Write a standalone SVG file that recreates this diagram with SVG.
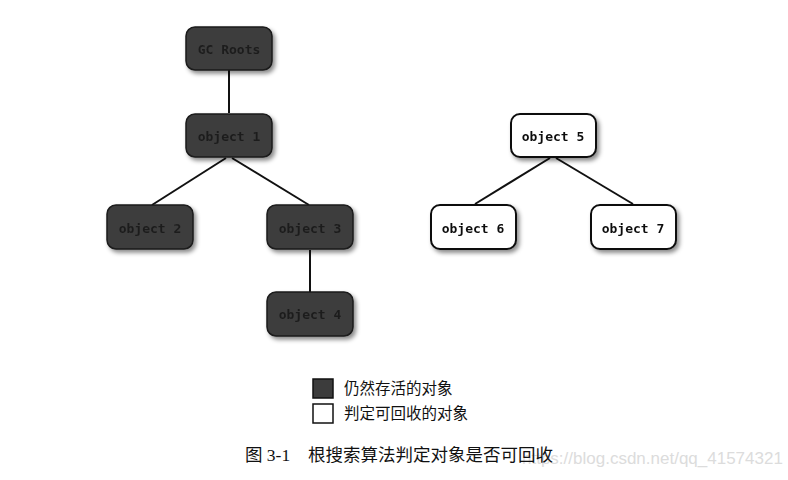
<svg xmlns="http://www.w3.org/2000/svg" width="788" height="480" viewBox="0 0 788 480">
<style>
.dark rect{fill:#3c3c3c;stroke:#1a1a1a;stroke-width:1.5}
.light rect{fill:#fff;stroke:#111;stroke-width:2}
.dark text{fill:#1e1e1e}
.light text{fill:#111}
.node text{font-family:"DejaVu Sans Mono","Liberation Mono",monospace;font-size:13px;font-weight:bold;text-anchor:middle;dominant-baseline:central}
.edge{stroke:#111;stroke-width:2;fill:none}
.leg{font-family:"Noto Sans CJK SC",sans-serif;font-size:15.5px;fill:#111}
.cap{font-family:"Liberation Serif","Noto Sans CJK SC",serif;font-size:17.5px;fill:#111}
</style>
<defs>
<filter id="sh" x="-20%" y="-20%" width="150%" height="160%">
<feDropShadow dx="2.5" dy="3" stdDeviation="2" flood-color="#000" flood-opacity="0.45"/>
</filter>
</defs>
<rect width="788" height="480" fill="#fff"/>
<g id="connectors">
<line class="edge" x1="229" y1="70" x2="229" y2="113"/>
<line class="edge" x1="226" y1="158" x2="152" y2="205"/>
<line class="edge" x1="232" y1="158" x2="309" y2="205"/>
<line class="edge" x1="310" y1="250" x2="310" y2="292"/>
<line class="edge" x1="550" y1="158" x2="475" y2="204"/>
<line class="edge" x1="556" y1="158" x2="633" y2="204"/>
</g>
<g id="gcroots" class="node dark" filter="url(#sh)"><rect x="186" y="27" width="86" height="43" rx="9"/><text x="229" y="49">GC Roots</text></g>
<g id="object1" class="node dark" filter="url(#sh)"><rect x="186" y="114" width="86" height="43" rx="9"/><text x="229" y="136">object 1</text></g>
<g id="object2" class="node dark" filter="url(#sh)"><rect x="107" y="205" width="86" height="44" rx="9"/><text x="150" y="228">object 2</text></g>
<g id="object3" class="node dark" filter="url(#sh)"><rect x="267" y="205" width="86" height="44" rx="9"/><text x="310" y="228">object 3</text></g>
<g id="object4" class="node dark" filter="url(#sh)"><rect x="267" y="292" width="86" height="44" rx="9"/><text x="310" y="314">object 4</text></g>
<g id="object5" class="node light" filter="url(#sh)"><rect x="511" y="114" width="85" height="43" rx="9"/><text x="553" y="136">object 5</text></g>
<g id="object6" class="node light" filter="url(#sh)"><rect x="431" y="205" width="85" height="44" rx="9"/><text x="473" y="228">object 6</text></g>
<g id="object7" class="node light" filter="url(#sh)"><rect x="591" y="205" width="85" height="44" rx="9"/><text x="633" y="228">object 7</text></g>
<g id="legend">
<rect x="313" y="379" width="20" height="19" fill="#3c3c3c" stroke="#111" stroke-width="1.5"/>
<text class="leg" x="344" y="394">仍然存活的对象</text>
<rect x="313" y="404" width="20" height="19" fill="#fff" stroke="#111" stroke-width="1.5"/>
<text class="leg" x="344" y="419">判定可回收的对象</text>
</g>
<text x="522" y="464" font-family="Liberation Sans,sans-serif" font-size="17" fill="#dcdcdc">https://blog.csdn.net/qq_41574321</text>
<text class="cap" x="245" y="461">图 3-1</text>
<text class="cap" x="308" y="461">根搜索算法判定对象是否可回收</text>
</svg>
